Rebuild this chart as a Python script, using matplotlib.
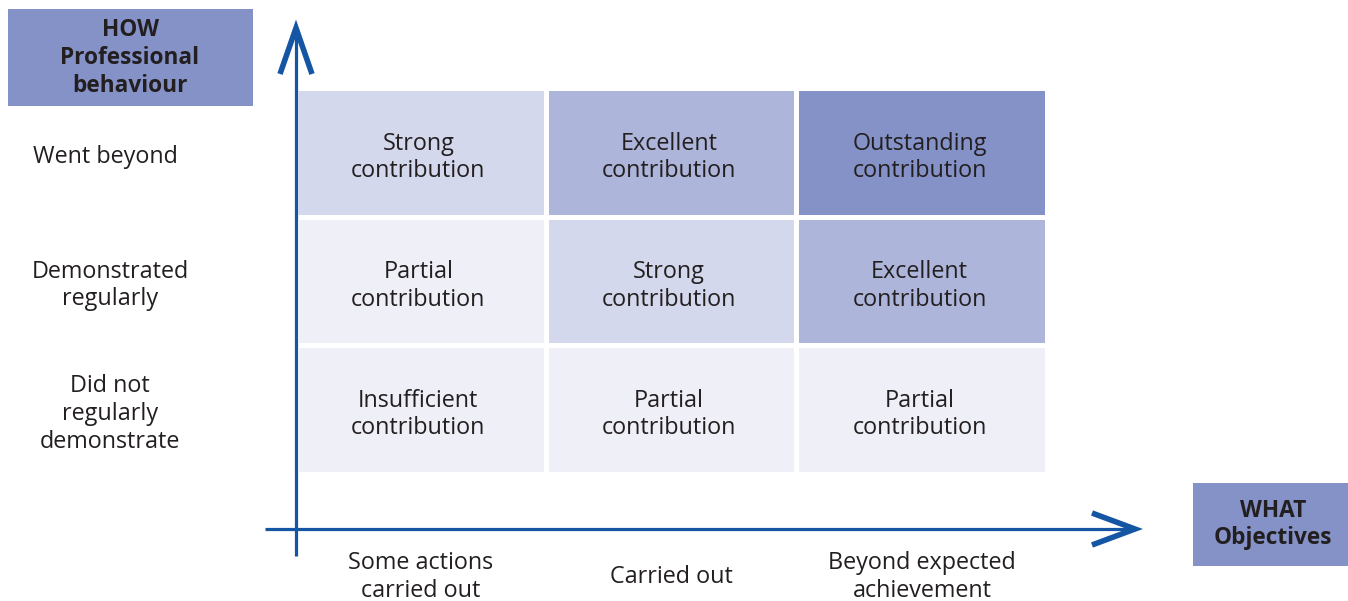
import matplotlib
matplotlib.use("Agg")
import matplotlib.pyplot as plt
from matplotlib.patches import Rectangle
import matplotlib.transforms as mtransforms

# ---- data ----
row_labels = ["Went beyond", "Demonstrated\nregularly", "Did not\nregularly\ndemonstrate"]
col_labels = ["Some actions\ncarried out", "Carried out", "Beyond expected\nachievement"]
cell_labels = [
    ["Strong\ncontribution", "Excellent\ncontribution", "Outstanding\ncontribution"],
    ["Partial\ncontribution", "Strong\ncontribution", "Excellent\ncontribution"],
    ["Insufficient\ncontribution", "Partial\ncontribution", "Partial\ncontribution"],
]
cell_levels = [
    [2, 3, 4],
    [1, 2, 3],
    [1, 1, 1],
]
y_title = "HOW\nProfessional\nbehaviour"
x_title = "WHAT\nObjectives"

# ---- style ----
level_colors = {1: "#EEEFF7", 2: "#D4D8EC", 3: "#AEB5DB", 4: "#8592C8"}
header_color = "#8592C8"
arrow_color = "#1455A4"
text_color = "#231F20"
FONT = "Open Sans"
FS = 16.8
FSB = 16.3
LS = 1.2

W, H = 1348, 601
fig = plt.figure(figsize=(W / 100, H / 100), dpi=100)

# overlay axes in pixel coordinates
ov = fig.add_axes([0, 0, 1, 1])
ov.set_xlim(0, W)
ov.set_ylim(H, 0)
ov.axis("off")

# grid axes
gl, gr, gt, gb = 295.5, 1047.5, 88.5, 474.5
gax = fig.add_axes([gl / W, 1 - gb / H, (gr - gl) / W, (gb - gt) / H])
gax.set_xlim(-0.5, 2.5)
gax.set_ylim(2.5, -0.5)
gax.axis("off")

for r, row in enumerate(cell_labels):
    for c, lab in enumerate(row):
        gax.bar(c, 0.962, bottom=r - 0.481, width=0.98,
                color=level_colors[cell_levels[r][c]], linewidth=0)
        gax.text(c - 0.01, r + 0.035, lab, ha="center", va="center", fontsize=FS,
                 family=FONT, color=text_color, linespacing=LS)

# row labels (x in pixels via blended transform)
trans_r = mtransforms.blended_transform_factory(ov.transData, gax.transData)
row_x = [105, 110, 110]
for r, lab in enumerate(row_labels):
    gax.text(row_x[r], r + 0.03, lab, transform=trans_r, ha="center", va="center",
             fontsize=FS, family=FONT, color=text_color, linespacing=LS)

# column labels
trans_c = mtransforms.blended_transform_factory(gax.transData, ov.transData)
for c, lab in enumerate(col_labels):
    gax.text(c, 577, lab, transform=trans_c, ha="center", va="center",
             fontsize=FS, family=FONT, color=text_color, linespacing=LS)

# header boxes
ov.add_patch(Rectangle((8, 9), 245, 97, color=header_color, lw=0))
ov.text(130, 58, y_title, ha="center", va="center", fontsize=FSB,
        family=FONT, weight="bold", color=text_color, linespacing=LS)
ov.add_patch(Rectangle((1193, 483), 155, 83, color=header_color, lw=0))
ov.text(1273, 524.5, x_title, ha="center", va="center", fontsize=FSB,
        family=FONT, weight="bold", color=text_color, linespacing=LS)

# arrows
ov.plot([296, 296], [556, 28], color=arrow_color, lw=2.3, solid_capstyle="butt")
ov.plot([280, 296, 312], [74, 28, 74], color=arrow_color, lw=4.0,
        solid_joinstyle="miter", solid_capstyle="butt")
ov.plot([265, 1135], [529, 529], color=arrow_color, lw=2.3, solid_capstyle="butt")
ov.plot([1092, 1135, 1092], [513, 529, 545], color=arrow_color, lw=4.0,
        solid_joinstyle="miter", solid_capstyle="butt")

fig.savefig("out.png", dpi=100, facecolor="white")
